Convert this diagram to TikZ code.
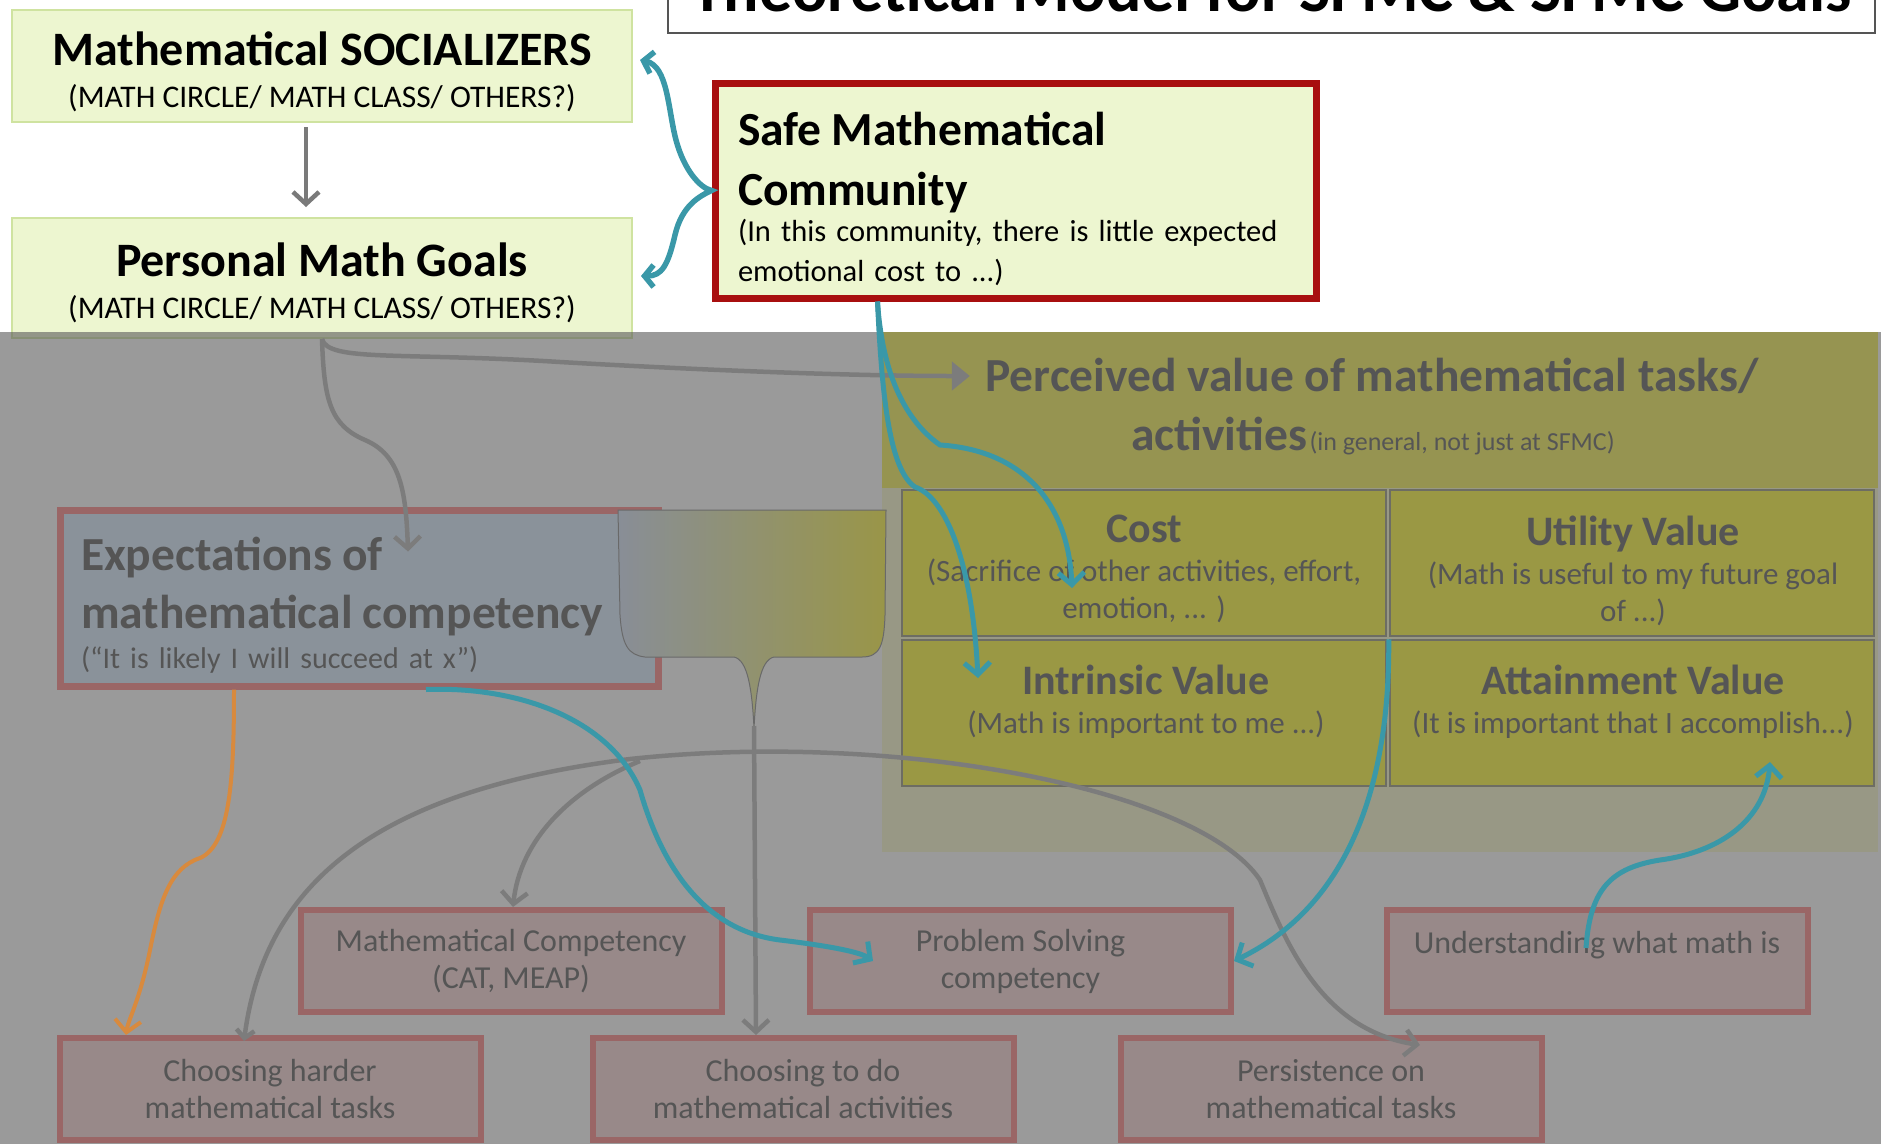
\documentclass[tikz,border=0pt]{standalone}
\usepackage{fontspec}
\setmainfont{Carlito}
\usetikzlibrary{arrows.meta}

\definecolor{leafgreen}{HTML}{EDF6D0}
\definecolor{leafedge}{HTML}{CFE3A0}
\definecolor{safered}{HTML}{A80F0F}
\definecolor{titleedge}{HTML}{555555}
\definecolor{expblue}{HTML}{D7EBFF}
\definecolor{expred}{HTML}{FF7878}
\definecolor{pinkfill}{HTML}{FAD4D4}
\definecolor{pinkedge}{HTML}{FF7878}
\definecolor{cellyellow}{HTML}{FFFA1E}
\definecolor{headyellow}{HTML}{F5F040}
\definecolor{palecream}{HTML}{FAFAC8}
\definecolor{celledge}{HTML}{8A8A70}
\definecolor{callblue}{HTML}{D2E1F8}
\definecolor{callyellow}{HTML}{FFF528}
\definecolor{wiregray}{gray}{0.70}
\definecolor{arrowgray}{HTML}{7A7A7A}
\definecolor{lowink}{gray}{0.3}
\definecolor{linkteal}{HTML}{3A98A8}
\definecolor{linkorange}{HTML}{D88A3E}
\definecolor{veil}{gray}{0.36}

\begin{document}
\begin{tikzpicture}[x=1pt,y=-1pt,
  greenbox/.style={draw=leafedge,line width=2pt,fill=leafgreen,inner sep=0pt},
  boxtext/.style={align=center,inner sep=0pt,font=\fontsize{31.5}{42}\selectfont},
  pinkbox/.style={draw=pinkedge,line width=6pt,fill=pinkfill,inner sep=0pt,
    minimum width=421pt,minimum height=102pt,align=center,text=lowink,
    font=\fontsize{32}{37}\selectfont},
  cell/.style={fill=cellyellow,draw=celledge,line width=1.5pt,
    minimum width=484pt,minimum height=146pt,inner sep=0pt},
  celltext/.style={align=center,text=lowink,font=\fontsize{31}{37}\selectfont},
  grayarrow/.style={draw=wiregray,line width=4.5pt,
    -{Straight Barb[length=12pt,width=26pt]}},
  tealarrow/.style={draw=linkteal,line width=5pt,
    -{Straight Barb[length=12pt,width=26pt]}}]

\useasboundingbox (0,0) rectangle (1881,1144);
\fill[white] (0,0) rectangle (1881,1144);

% title bar, cut by the top edge
\node[draw=titleedge,line width=2pt,fill=white,minimum width=1207pt,
  text depth=0pt,inner ysep=22pt,anchor=south,
  font=\fontsize{66}{70}\selectfont\bfseries] (ttl) at (1271.5,34)
  {Theoretical Model for SFMC \& SFMC Goals};

% upper boxes
\node[greenbox,minimum width=620pt,minimum height=112pt] (soc) at (322,66) {};
\node[boxtext] (soctext) at (322,72)
  {{\fontsize{48}{50}\selectfont\bfseries Mathematical SOCIALIZERS}\\
   {(MATH CIRCLE/ MATH CLASS/ OTHERS?)}};
\node[greenbox,minimum width=620pt,minimum height=120pt] (goals) at (322,278) {};
\node[boxtext] (goalstext) at (322,283)
  {{\fontsize{48}{50}\selectfont\bfseries Personal Math Goals}\\
   {(MATH CIRCLE/ MATH CLASS/ OTHERS?)}};
\node[draw=safered,line width=7pt,fill=leafgreen,minimum width=601pt,
  minimum height=215pt,inner sep=0pt] (safe) at (1015.5,190.5) {};
\node[text width=566pt,align=left,inner sep=0pt,
  font=\fontsize{30.5}{40}\selectfont] (safetext) at (1021,199)
  {{\fontsize{47.5}{50}\selectfont\bfseries Safe Mathematical}\\[20pt]
   {\fontsize{47.5}{50}\selectfont\bfseries Community}\\[-4pt]
   (In this community, there is little expected\\
   emotional cost to ...)};

\draw[draw=arrowgray,line width=4.5pt,-{Straight Barb[length=12pt,width=26pt]},
  shorten <=4pt,shorten >=10pt] ([xshift=-16pt]soc.south) -- ([xshift=-16pt]goals.north);

% value block
\fill[palecream] (882,332) rectangle (1878,852);
\fill[headyellow] (882,332) rectangle (1878,488);
\node[cell] (costcell) at (1144,563) {};
\node[cell] (utilcell) at (1632,563) {};
\node[cell] (intrcell) at (1144,713) {};
\node[cell] (attncell) at (1632,713) {};

\node[text=lowink,font=\fontsize{47.5}{50}\selectfont\bfseries] (perctitle) at (1372,376)
  {Perceived value of mathematical tasks/};
\node[anchor=base,text=lowink] (percsub) at (1373,450)
  {{\fontsize{47.5}{50}\selectfont\bfseries activities}
   {\fontsize{26}{30}\selectfont (in general, not just at SFMC)}};

\node[celltext] (cost) at (1144,569)
  {{\fontsize{42}{44}\selectfont\bfseries Cost}\\[2pt]
   (Sacrifice of other activities, effort,\\emotion, ... )};
\node[celltext] (util) at (1633,571)
  {{\fontsize{42}{44}\selectfont\bfseries Utility Value}\\[2pt]
   (Math is useful to my future goal\\of ...)};
\node[celltext] (intr) at (1146,702)
  {{\fontsize{42}{44}\selectfont\bfseries Intrinsic Value}\\[2pt]
   (Math is important to me ...)};
\node[celltext] (attn) at (1633,702)
  {{\fontsize{42}{44}\selectfont\bfseries Attainment Value}\\[2pt]
   (It is important that I accomplish...)};

% expectations + callout
\node[draw=expred,line width=7pt,fill=expblue,minimum width=598pt,
  minimum height=176pt,inner sep=0pt] (expect) at (359,598) {};
\node[text width=556pt,align=left,inner sep=0pt,text=lowink,
  font=\fontsize{30}{40}\selectfont] (expecttext) at (359,605)
  {{\fontsize{47.5}{56}\selectfont\bfseries Expectations of}\\[16pt]
   {\fontsize{47.5}{56}\selectfont\bfseries mathematical competency}\\
   (``It is likely I will succeed at x'')};

\shade[left color=callblue,right color=callyellow,draw=gray,line width=1pt]
  (618,510) -- (886,510) -- (885,615) .. controls (884,645) and (880,657) .. (862,657)
  -- (774,657) .. controls (760,660) and (756,690) .. (754,728)
  .. controls (752,690) and (748,660) .. (734,657)
  -- (645,657) .. controls (628,655) and (622,645) .. (620,615) -- cycle;
\coordinate (tail) at (754,726);

% outcome boxes
\node[pinkbox] (mcomp) at (511,961) {Mathematical Competency\\(CAT, MEAP)};
\node[pinkbox] (psolv) at (1020.5,961) {Problem Solving\\competency};
\node[pinkbox] (under) at (1597,961) {Understanding what math is\\~};
\node[pinkbox] (harder) at (270,1089) {Choosing harder\\mathematical tasks};
\node[pinkbox] (choose) at (803,1089) {Choosing to do\\mathematical activities};
\node[pinkbox] (persist) at (1331,1089) {Persistence on\\mathematical tasks};

% gray links
\draw[grayarrow,-{Triangle[length=18pt,width=28pt]},shorten >=12pt] (goals.south)
  .. controls (328,362) and (400,352) .. (560,362)
  .. controls (700,370) and (850,376) .. (perctitle.west);
\draw[grayarrow] (goals.south) .. controls (324,400) and (330,425) .. (365,440)
  .. controls (400,455) and (406,490) .. ([shift={(49,45)}]expect.north);
\draw[grayarrow] (tail) -- ([xshift=-47pt]choose.north);
\draw[grayarrow,{Straight Barb[length=8pt,width=18pt]}-{Straight Barb[length=12pt,width=26pt]}]
  ([xshift=-26pt,yshift=-6pt]harder.north)
  .. controls (265,880) and (380,790) .. (630,759)
  .. controls (900,730) and (1200,790) .. (1260,880)
  .. controls (1285,940) and (1320,1030) .. ([shift={(89,10)}]persist.north);
\draw[grayarrow] (640,761) .. controls (570,790) and (520,840) .. ([xshift=2pt]mcomp.north);

% dimmed lower half
\fill[veil,opacity=0.62] (0,332) rectangle (1881,1144);

% brace from the community box
\draw[draw=linkteal,line width=5.5pt,line cap=round,
  {Straight Barb[length=9pt,width=22pt]}-{Straight Barb[length=9pt,width=22pt]}]
  ([shift={(7,-6)}]soc.east) .. controls (668,66) and (668,110) .. (676,140)
  .. controls (684,170) and (700,188) .. (safe.west)
  .. controls (700,196) and (682,205) .. (675,235)
  .. controls (668,265) and (662,276) .. ([shift={(8,-2)}]goals.east);

% teal and orange links
\draw[tealarrow] ([xshift=-138pt]safe.south) .. controls (882,400) and (890,470) .. (915,487)
  .. controls (945,497) and (972,560) .. ([shift={(-166,-35)}]intrcell.center);
\draw[tealarrow] ([xshift=-138pt]safe.south) .. controls (880,340) and (890,410) .. (940,445)
  .. controls (1020,450) and (1068,500) .. ([shift={(-72,25)}]costcell.center);
\draw[tealarrow] ([xshift=67pt]expect.south) .. controls (520,686) and (610,720) .. (640,790)
  .. controls (660,860) and (700,930) .. (780,940)
  .. controls (830,946) and (860,952) .. ([xshift=66pt]psolv.west);
\draw[tealarrow] ([xshift=2pt]intrcell.north east) .. controls (1390,800) and (1340,910) .. (psolv.east);
\draw[tealarrow] ([shift={(-11,-13)}]under.center) .. controls (1590,890) and (1610,868) .. (1660,860)
  .. controls (1720,852) and (1765,820) .. ([shift={(138,49)}]attncell.center);
\draw[draw=linkorange,line width=4pt,-{Straight Barb[length=12pt,width=26pt]}]
  ([xshift=-125pt]expect.south) .. controls (234,780) and (230,845) .. (200,858)
  .. controls (170,868) and (160,900) .. (150,950)
  .. controls (140,1000) and (128,1020) .. ([xshift=-144pt]harder.north);

\end{tikzpicture}
\end{document}
